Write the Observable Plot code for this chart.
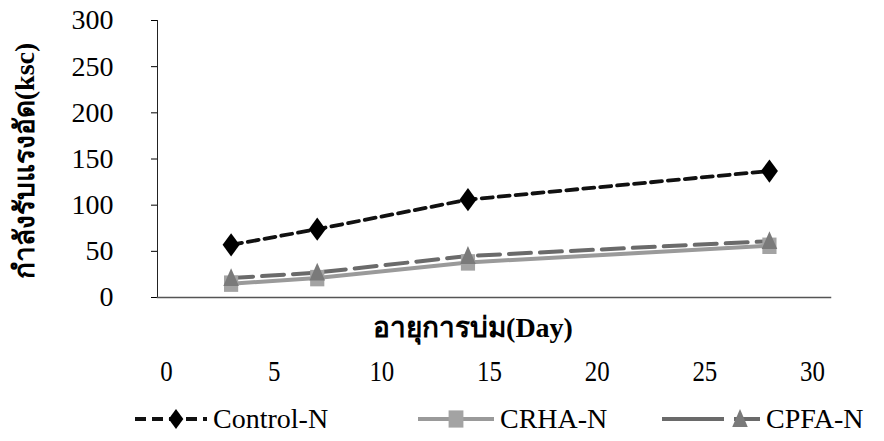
<!DOCTYPE html>
<html><head><meta charset="utf-8">
<script src="https://cdn.jsdelivr.net/npm/d3@7"></script>
<script src="https://cdn.jsdelivr.net/npm/@observablehq/plot@0.6"></script>
<style>
body{margin:0;background:#fff;font-family:"Liberation Serif",serif;}
#chart{width:884px;height:441px;position:relative;}
#chart > svg{position:absolute;top:0;left:0;}
#legend{position:absolute;top:402px;left:0;width:884px;height:34px;font-family:"Liberation Serif",serif;font-size:28px;color:#000;}
.item{position:absolute;top:0;display:flex;align-items:center;height:34px;}
.item svg{margin-right:6px;}
</style></head>
<body><div id="chart"></div>
<script>
const days = [3, 7, 14, 28];
const controlN = [57, 74, 106, 137];
const crhaN = [15, 21, 38, 56];
const cpfaN = [21, 27, 45, 61];
const seriesNames = ["Control-N", "CRHA-N", "CPFA-N"];
const yTicks = [0, 50, 100, 150, 200, 250, 300];
const xTicks = [0, 5, 10, 15, 20, 25, 30];

const rows = (name, vals) => days.map((d, i) => ({series: name, day: d, value: vals[i]}));
const ctrl = rows(seriesNames[0], controlN);
const crha = rows(seriesNames[1], crhaN);
const cpfa = rows(seriesNames[2], cpfaN);

const FONT = "Liberation Serif";
const tallDiamond = {
  draw(ctx, size) {
    const w = Math.sqrt(size) * 0.6, h = Math.sqrt(size) * 0.82;
    ctx.moveTo(0, -h); ctx.lineTo(w, 0); ctx.lineTo(0, h); ctx.lineTo(-w, 0); ctx.closePath();
  }
};
const tallTriangle = {
  draw(ctx, size) {
    const w = Math.sqrt(size) * 0.55, h = Math.sqrt(size) * 0.7;
    ctx.moveTo(0, -h); ctx.lineTo(w, h * 0.8); ctx.lineTo(-w, h * 0.8); ctx.closePath();
  }
};
const tallSquare = {
  draw(ctx, size) {
    const w = Math.sqrt(size) * 0.5, h = Math.sqrt(size) * 0.58;
    ctx.rect(-w, -h, 2 * w, 2 * h);
  }
};

const plot = Plot.plot({
  width: 884, height: 441,
  marginLeft: 157, marginRight: 54, marginTop: 20, marginBottom: 144,
  style: {background: "transparent", color: "#000", fontFamily: FONT},
  x: {domain: [0, 30], range: [166, 812]},
  y: {domain: [0, 300]},
  marks: [
    Plot.axisY({ticks: yTicks, tickSize: 6, tickPadding: 38, label: null}),
    Plot.axisX({ticks: xTicks, tickSize: 0, tickPadding: 62, label: null}),
    Plot.frame({anchor: "left", stroke: "#222"}),
    Plot.frame({anchor: "bottom", stroke: "#555", strokeWidth: 1.5}),
    Plot.line(crha, {x: "day", y: "value", stroke: "#9a9a9a", strokeWidth: 4}),
    Plot.line(cpfa, {x: "day", y: "value", stroke: "#6a6a6a", strokeWidth: 4, strokeDasharray: "22,9"}),
    Plot.dot(crha, {x: "day", y: "value", symbol: tallSquare, fill: "#a3a3a3", r: 8}),
    Plot.dot(cpfa, {x: "day", y: "value", symbol: tallTriangle, fill: "#7a7a7a", r: 8}),
    Plot.line(ctrl, {x: "day", y: "value", stroke: "#111", strokeWidth: 3.8, strokeDasharray: "11,6"}),
    Plot.dot(ctrl, {x: "day", y: "value", symbol: tallDiamond, fill: "#000", r: 8})
  ]
});
const svg = d3.select(plot);
svg.selectAll("g[aria-label='x-axis tick label'] text").each(function() {
  const t = this.getAttribute("transform") || "";
  this.setAttribute("transform", t + " scale(0.83,1)");
}).style("font-family", FONT).style("font-size", "30px");
svg.selectAll("g[aria-label='y-axis tick label'] text")
  .style("font-family", FONT).style("font-size", "28px");
svg.append("text").attr("transform", "translate(28,161) rotate(-90)")
  .attr("text-anchor", "middle").attr("dominant-baseline", "middle")
  .style("font-family", FONT).style("font-weight", "bold").style("font-size", "28px")
  .text("กำลังรับแรงอัด(ksc)");
svg.append("text").attr("x", 473).attr("y", 337)
  .attr("text-anchor", "middle")
  .style("font-family", FONT).style("font-weight", "bold").style("font-size", "28px")
  .text("อายุการบ่ม(Day)");
document.getElementById("chart").appendChild(plot);

const legend = document.createElement("div");
legend.id = "legend";
const symMap = {diamond: tallDiamond, square: tallSquare, triangle: tallTriangle};
const items = [
  {name: seriesNames[0], left: 135, width: 72, mark: 41, stroke: "#111", dash: "11,6", w: 4, sym: "diamond", fill: "#000", sz: 150},
  {name: seriesNames[1], left: 418, width: 76, mark: 38, stroke: "#9a9a9a", dash: null, w: 4, sym: "square", fill: "#a3a3a3", sz: 220},
  {name: seriesNames[2], left: 662, width: 98, mark: 78, stroke: "#6a6a6a", dash: "62,10", w: 4, sym: "triangle", fill: "#7a7a7a", sz: 200}
];
items.forEach(it => {
  const div = document.createElement("div");
  div.className = "item";
  div.style.left = it.left + "px";
  const s = d3.create("svg").attr("width", it.width).attr("height", 34);
  s.append("line").attr("x1", 0).attr("x2", it.width).attr("y1", 17).attr("y2", 17)
    .attr("stroke", it.stroke).attr("stroke-width", it.w).attr("stroke-dasharray", it.dash);
  s.append("path").attr("transform", `translate(${it.mark},17)`)
    .attr("d", d3.symbol(symMap[it.sym], it.sz)()).attr("fill", it.fill);
  div.appendChild(s.node());
  const t = document.createElement("span");
  t.textContent = it.name;
  div.appendChild(t);
  legend.appendChild(div);
});
document.getElementById("chart").appendChild(legend);
</script></body></html>
